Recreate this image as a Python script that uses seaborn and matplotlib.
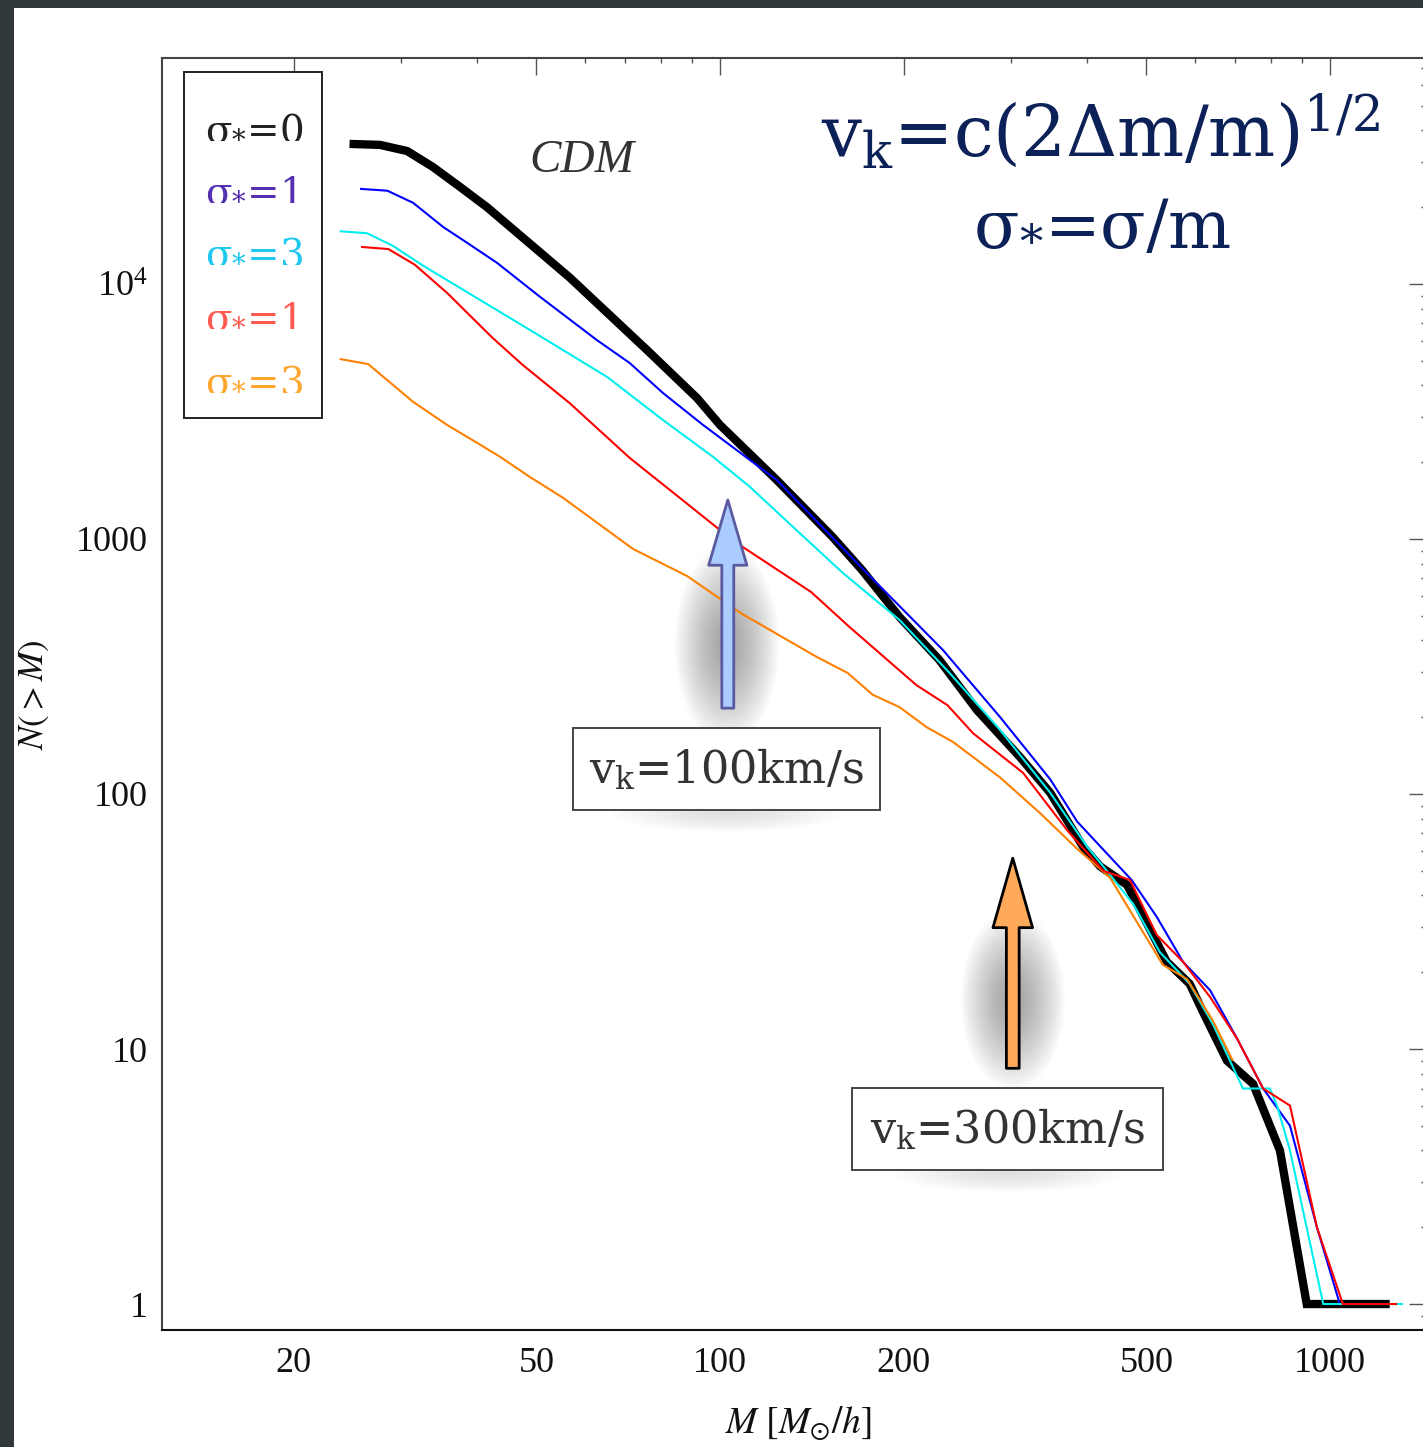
import numpy as np
import pandas as pd
import matplotlib
matplotlib.use("Agg")
import matplotlib.pyplot as plt
from matplotlib.patches import Rectangle, Ellipse
import seaborn as sns

# ---------------- data ----------------
M_black = [24.7, 27.7, 30.7, 33.8, 37.5, 41.5, 56.7, 75.9, 91.7, 100, 124, 153, 171, 197,
           229, 264, 310, 348, 394, 420, 465, 540, 589, 619, 678, 748, 828, 916, 1253]
N_black = [35400, 35100, 33200, 28800, 24000, 20000, 10600, 5510, 3570, 2800, 1700, 1018,
           755, 494, 335, 213, 140, 101, 62, 52, 44, 22, 18, 14, 9, 7.3, 4, 1, 1]

M_blue = [25.7, 28.5, 31.4, 35.2, 38.5, 43.1, 50.7, 62.8, 71.1, 80.6, 93.8, 124, 174, 232,
          288, 348, 385, 473, 520, 574, 636, 704, 777, 860, 952, 1038, 1253]
N_blue = [23600, 23200, 20800, 16700, 14500, 12100, 8900, 6030, 4900, 3740, 2800, 1700, 736,
          367, 200, 114, 78, 46, 33, 22, 17, 11, 7, 5, 2, 1, 1]

M_cyan = [23.8, 26.4, 29.1, 32.6, 39.4, 48.8, 65.3, 80.6, 97.4, 112, 135, 159, 197, 238, 288,
          348, 400, 425, 476, 526, 589, 643, 720, 797, 819, 860, 975, 1318]
N_cyan = [16100, 15800, 14100, 11800, 8980, 6600, 4320, 2930, 2100, 1600, 1056, 736, 481, 298,
          178, 101, 62, 52, 37, 24, 18, 12.5, 7, 7, 6, 4, 1, 1]

M_red = [25.8, 28.6, 31.6, 35.7, 42.4, 47.5, 56.7, 71.1, 85.9, 100, 109, 141, 163, 210, 236,
         260, 314, 371, 425, 470, 520, 574, 636, 704, 777, 860, 952, 1050, 1288]
N_red = [13970, 13700, 11900, 9220, 6140, 4810, 3410, 2080, 1450, 1084, 930, 620, 452, 267,
         223, 173, 121, 72, 50, 46, 28, 22, 16, 11, 7, 6, 2, 1, 1]

M_orange = [23.8, 26.5, 31.4, 35.7, 40.0, 43.6, 48.8, 55.3, 72.0, 88.3, 108, 144, 162, 178,
            197, 218, 241, 288, 335, 385, 436, 532, 583, 643, 693]
N_orange = [5080, 4850, 3450, 2800, 2380, 2100, 1750, 1450, 914, 716, 513, 345, 298, 245,
            219, 183, 160, 116, 84, 61, 47, 21.4, 18.8, 12.9, 9]

legend_labels = ["0", "1", "3", "1", "3"]
legend_colors = ["#222222", "#5530b0", "#1ec8f0", "#ff5a50", "#ffa62e"]

x_major = [20, 50, 100, 200, 500, 1000]
x_minor = [30, 40, 60, 70, 80, 90, 300, 400, 600, 700, 800, 900]
y_major = [1, 10, 100, 1000, 10000]
y_major_labels = ["1", "10", "100", "1000", r"$\mathregular{10^4}$"]

# ---------------- style ----------------
sns.set_style("white")
plt.rcParams["font.family"] = ["Liberation Serif", "DejaVu Serif"]
plt.rcParams["mathtext.fontset"] = "stix"

W, H = 1423, 1447
fig = plt.figure(figsize=(W / 100, H / 100), dpi=100)
fig.patch.set_facecolor("#31383b")
fig.add_artist(Rectangle((14 / W, 0), 1, 1 - 8 / H, transform=fig.transFigure,
                         fc="white", ec="none", zorder=0))

ax = fig.add_axes([162 / W, 117 / H, (1426 - 162) / W, 1272 / H])
ax.set_facecolor("white")

series = [
    (M_black, N_black, "black", 6.0),
    (M_blue, N_blue, "#0000ff", 1.5),
    (M_cyan, N_cyan, "#00eeee", 1.5),
    (M_orange, N_orange, "#ff8000", 1.5),
    (M_red, N_red, "#ff0000", 1.5),
]
for i, (mx, ny, col, lw) in enumerate(series):
    df = pd.DataFrame({"M": mx, "N": ny})
    sns.lineplot(data=df, x="M", y="N", ax=ax, color=col, linewidth=lw,
                 estimator=None, sort=False, zorder=3 + i * 0.1,
                 solid_capstyle="butt", solid_joinstyle="miter")

ax.set_xscale("log")
ax.set_yscale("log")
ax.set_xlim(12.17, 1437)
ax.set_ylim(0.791, 76900)

ax.set_xticks(x_major)
ax.set_xticklabels([str(v) for v in x_major])
ax.set_xticks(x_minor, minor=True)
ax.set_xticklabels([], minor=True)
ax.set_yticks(y_major)
ax.set_yticklabels(y_major_labels)
ax.yaxis.set_minor_locator(matplotlib.ticker.LogLocator(base=10, subs=np.arange(2, 10)))
ax.yaxis.set_minor_formatter(matplotlib.ticker.NullFormatter())

ax.tick_params(which="both", direction="in", top=True, right=True, color="#555555",
               width=1.0, labelsize=26, labelcolor="#111111")
ax.tick_params(which="major", length=12)
ax.tick_params(which="minor", length=3.8)
ax.tick_params(axis="x", which="major", pad=12)
ax.tick_params(axis="y", which="major", pad=10)
for side, sp in ax.spines.items():
    sp.set_color("#444444")
    sp.set_linewidth(1.5)
ax.spines["bottom"].set_color("#111111")

ax.set_xlabel(r"$M\ [M_{\odot}/h]$", fontsize=27, color="#111111")
ax.xaxis.set_label_coords(0.5036, -0.058)
ax.set_ylabel(r"$N(>M)$", fontsize=25, color="#111111")
ax.yaxis.set_label_coords(-0.088, 0.499)


# ---------------- soft shadows ----------------
def shadow(cx, cy, w, h, n=30, a=0.012):
    for k in range(n):
        f = (1 - k / n) ** 0.7
        ax.add_patch(Ellipse((cx, cy), w * f, h * f, transform=ax.transAxes,
                             fc="black", ec="none", alpha=a, zorder=1))


def fx(px):
    return (px - 162) / 1264


def fy(py):
    return (1330 - py) / 1272


shadow(fx(727), fy(645), 105 / 1264, 200 / 1272)
shadow(fx(1013), fy(1000), 105 / 1264, 180 / 1272)
shadow(fx(727), fy(812), 230 / 1264, 40 / 1272, n=10, a=0.012)
shadow(fx(1008), fy(1172), 230 / 1264, 40 / 1272, n=10, a=0.012)

# ---------------- arrows ----------------
ax.annotate("", xy=(103, 1422), xytext=(103, 217), xycoords="data",
            arrowprops=dict(arrowstyle="simple,head_length=4.7,head_width=2.75,tail_width=0.86",
                            mutation_scale=10, fc="#aaccff", ec="#5a5aa0", lw=2,
                            shrinkA=0, shrinkB=0), zorder=6)
ax.annotate("", xy=(302, 56), xytext=(302, 8.4), xycoords="data",
            arrowprops=dict(arrowstyle="simple,head_length=5.0,head_width=2.85,tail_width=0.92",
                            mutation_scale=10, fc="#ffaa5a", ec="black", lw=2,
                            shrinkA=0, shrinkB=0), zorder=6)

# ---------------- boxes with labels ----------------
serif2 = ["DejaVu Serif", "DejaVu Sans"]
for (x0, x1, y0, y1, txt) in [(573, 880, 810, 728, r"$\mathregular{v_k}$=100km/s"),
                              (852, 1163, 1170, 1088, r"$\mathregular{v_k}$=300km/s")]:
    ax.add_patch(Rectangle((fx(x0), fy(y0)), fx(x1) - fx(x0), fy(y1) - fy(y0),
                           transform=ax.transAxes, fc="white", ec="#444444", lw=1.4, zorder=7))
    ax.text((fx(x0) + fx(x1)) / 2, (fy(y0) + fy(y1)) / 2, txt, transform=ax.transAxes,
            ha="center", va="center", fontsize=32, color="#333333", family=serif2, zorder=8)

# legend box (colored text entries)
ax.add_patch(Rectangle((fx(184), fy(418)), fx(322) - fx(184), fy(72) - fy(418),
                       transform=ax.transAxes, fc="white", ec="#222222", lw=1.4, zorder=7))
baselines = [137, 199, 262, 326, 390]
for lab, col, b in zip(legend_labels, legend_colors, baselines):
    ax.text(fx(205), fy(b), r"$\mathregular{σ_{*}}$=" + lab, transform=ax.transAxes,
            ha="left", va="baseline", fontsize=28, color=col, family=serif2, zorder=8)

# CDM
ax.text(fx(582), fy(172), "CDM", transform=ax.transAxes, ha="center", va="baseline",
        fontsize=34, style="italic", color="#333333", family=["Liberation Serif"], zorder=8)

# formula
navy = "#0c2158"
ax.text(fx(1101), fy(156), r"$\mathregular{v_k}$=c(2Δm/m$\mathregular{)^{1/2}}$",
        transform=ax.transAxes, ha="center", va="baseline", fontsize=51, color=navy,
        family=serif2, zorder=8)
ax.text(fx(1102), fy(244), r"$\mathregular{σ_{*}}$=σ/m", transform=ax.transAxes,
        ha="center", va="baseline", fontsize=48, color=navy, family=serif2, zorder=8)

fig.savefig("out.png", dpi=100, facecolor=fig.get_facecolor())
